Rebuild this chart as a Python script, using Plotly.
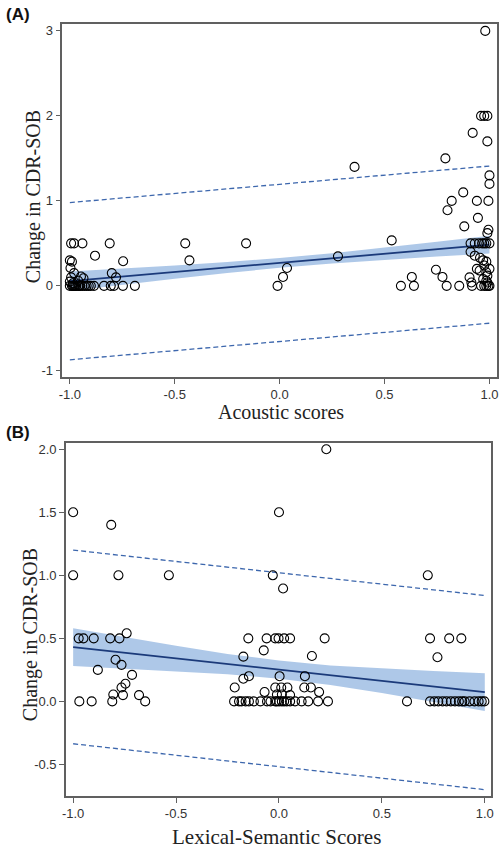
import plotly.graph_objects as go

# ---------------- Panel A data ----------------
a_x = [0.98, 0.96, 0.975, 0.99, 0.92, 0.99, 0.79, 0.357, 1.0, 1.0, 0.875,
       0.82, 0.94, 0.995, 0.80, 0.945, 0.88, 0.995, 0.99,
       0.91, 0.93, 0.95, 0.965, 0.975, 0.985, 1.0,
       0.91, 0.93, 0.955, 0.97, 0.985,
       0.94, 0.975, 0.985, 0.99, 0.985, 1.0, 0.97, 0.953, 0.99,
       0.745, 0.776, 0.905, 0.914,
       0.796, 0.856, 0.917, 0.96, 0.975, 0.985, 0.995, 1.0,
       -0.01, 0.016, 0.035, 0.278, 0.534, 0.578, 0.63, 0.64,
       -0.45, -0.43, -0.16,
       -0.994, -0.98, -0.94, -0.81,
       -0.88, -0.746,
       -1.0, -0.99, -0.997,
       -0.98, -0.80, -0.78,
       -0.994, -0.947, -0.935,
       -1.0, -0.96, -0.985,
       -1.0, -0.99, -0.985, -0.98, -0.975, -0.97, -0.96, -0.955, -0.95, -0.94,
       -0.93, -0.92, -0.91, -0.90, -0.885, -0.837, -0.805, -0.79, -0.747, -0.69]
a_y = [3.0, 2.0, 2.0, 2.0, 1.8, 1.7, 1.5, 1.4, 1.3, 1.2, 1.1,
       1.0, 1.0, 1.0, 0.89, 0.80, 0.70, 0.66, 0.62,
       0.5, 0.5, 0.5, 0.5, 0.5, 0.5, 0.5,
       0.40, 0.355, 0.33, 0.30, 0.285,
       0.20, 0.24, 0.16, 0.12, 0.06, 0.2, 0.08, 0.18, 0.04,
       0.19, 0.105, 0.10, 0.04,
       0, 0, 0, 0, 0, 0, 0, 0,
       0, 0.105, 0.21, 0.347, 0.535, 0, 0.105, 0,
       0.5, 0.30, 0.5,
       0.5, 0.5, 0.5, 0.5,
       0.355, 0.29,
       0.30, 0.285, 0.21,
       0.15, 0.15, 0.10,
       0.10, 0.11, 0.09,
       0.05, 0.06, 0.03,
       0, 0, 0, 0, 0, 0, 0, 0, 0, 0,
       0, 0, 0, 0, 0, 0, 0, 0, 0, 0]

# fitted line, confidence band and prediction interval
a_fit_x = [-1.0, -0.75, -0.5, -0.25, 0.0, 0.25, 0.5, 0.75, 1.0]
a_fit_y = [0.055, 0.109, 0.163, 0.216, 0.27, 0.324, 0.378, 0.431, 0.485]
a_ci_hi = [0.17, 0.204, 0.241, 0.281, 0.328, 0.384, 0.448, 0.518, 0.59]
a_ci_lo = [-0.06, 0.014, 0.085, 0.151, 0.212, 0.264, 0.308, 0.344, 0.38]
a_pi_x = [-1.0, 1.0]
a_pi_hi = [0.98, 1.41]
a_pi_lo = [-0.87, -0.44]

# ---------------- Panel B data ----------------
b_x = [-1.0, -0.815, -1.0, -0.78, -0.535, -0.74,
       0.23, 0.0, -0.03, 0.02, 0.723,
       -0.973, -0.95, -0.90, -0.82, -0.775, -0.149, -0.06, -0.018, -0.002, 0.025,
       0.054, 0.222, 0.734, 0.827, 0.886,
       0.77,
       -0.794, -0.765, -0.88, -0.714, -0.746, -0.765, -0.805, -0.758, -0.68,
       -0.97, -0.91, -0.81, -0.65,
       -0.173, -0.074, 0.16, -0.173, -0.146, 0.003, 0.126, -0.215, -0.018, 0.011,
       0.041, 0.123, 0.155, -0.07, -0.01, 0.014, 0.054, 0.195,
       -0.218, -0.194, -0.182, -0.162, -0.146, -0.122, -0.09, -0.058, -0.041, -0.018,
       -0.01, 0.001, 0.014, 0.025, 0.038, 0.054, 0.078, 0.11, 0.142, 0.19, 0.238,
       0.622, 0.734, 0.755, 0.774, 0.795, 0.814, 0.835, 0.855, 0.874, 0.89,
       0.902, 0.926, 0.95, 0.97, 0.985, 0.998]
b_y = [1.5, 1.4, 1.0, 1.0, 1.0, 0.54,
       2.0, 1.5, 1.0, 0.895, 1.0,
       0.5, 0.5, 0.5, 0.5, 0.5, 0.5, 0.5, 0.5, 0.5, 0.5,
       0.5, 0.5, 0.5, 0.5, 0.5,
       0.35,
       0.33, 0.29, 0.25, 0.21, 0.14, 0.11, 0.055, 0.05, 0.05,
       0, 0, 0, 0,
       0.355, 0.405, 0.36, 0.18, 0.2, 0.2, 0.2, 0.11, 0.11, 0.11,
       0.11, 0.11, 0.11, 0.074, 0.055, 0.055, 0.05, 0.074,
       0, 0, 0, 0, 0, 0, 0, 0, 0, 0,
       0, 0, 0, 0, 0, 0, 0, 0, 0, 0, 0,
       0, 0, 0, 0, 0, 0, 0, 0, 0, 0,
       0, 0, 0, 0, 0, 0]

b_fit_x = [-1.0, -0.75, -0.5, -0.25, 0.0, 0.25, 0.5, 0.75, 1.0]
b_fit_y = [0.43, 0.3855, 0.341, 0.2965, 0.252, 0.2075, 0.163, 0.1185, 0.074]
b_ci_hi = [0.58, 0.51, 0.441, 0.376, 0.324, 0.285, 0.26, 0.241, 0.224]
b_ci_lo = [0.28, 0.26, 0.241, 0.216, 0.18, 0.13, 0.066, -0.004, -0.076]
b_pi_x = [-1.0, 1.0]
b_pi_hi = [1.20, 0.84]
b_pi_lo = [-0.336, -0.70]

# ---------------- styles ----------------
BAND = "rgba(160,190,228,0.85)"
LINE = "#1b3a7a"
DASH = "#3d67ad"
FRAME = "#606060"

fig = go.Figure()

def add_panel(xa, ya, px, py, fx, fy, chi, clo, pix, pihi, pilo):
    fig.add_trace(go.Scatter(x=fx, y=clo, mode="lines", line=dict(width=0),
                             hoverinfo="skip", xaxis=xa, yaxis=ya, showlegend=False))
    fig.add_trace(go.Scatter(x=fx, y=chi, mode="lines", line=dict(width=0),
                             fill="tonexty", fillcolor=BAND,
                             hoverinfo="skip", xaxis=xa, yaxis=ya, showlegend=False))
    for arr in (pihi, pilo):
        fig.add_trace(go.Scatter(x=pix, y=arr, mode="lines",
                                 line=dict(color=DASH, width=1.3, dash="5px,3px"),
                                 xaxis=xa, yaxis=ya, showlegend=False))
    fig.add_trace(go.Scatter(x=fx, y=fy, mode="lines",
                             line=dict(color=LINE, width=1.8),
                             xaxis=xa, yaxis=ya, showlegend=False))
    fig.add_trace(go.Scatter(x=px, y=py, mode="markers",
                             marker=dict(symbol="circle-open", size=9,
                                         color="black", line=dict(width=1.1)),
                             xaxis=xa, yaxis=ya, showlegend=False))

add_panel("x", "y", a_x, a_y, a_fit_x, a_fit_y, a_ci_hi, a_ci_lo, a_pi_x, a_pi_hi, a_pi_lo)
add_panel("x2", "y2", b_x, b_y, b_fit_x, b_fit_y, b_ci_hi, b_ci_lo, b_pi_x, b_pi_hi, b_pi_lo)

axis_common = dict(showline=True, mirror=True, linecolor=FRAME, linewidth=1.5,
                   ticks="outside", ticklen=5, tickcolor=FRAME, tickwidth=1,
                   showgrid=False, zeroline=False,
                   tickfont=dict(family="Liberation Sans, Arial", size=13, color="#333"))

W, H = 500, 856
fig.update_layout(
    width=W, height=H, margin=dict(l=0, r=0, t=0, b=0),
    paper_bgcolor="white", plot_bgcolor="white",
    xaxis=dict(domain=[59 / W, 499 / W], range=[-1.036, 1.036],
               tickvals=[-1, -0.5, 0, 0.5, 1], ticktext=["-1.0", "-0.5", "0.0", "0.5", "1.0"],
               anchor="y", **axis_common),
    yaxis=dict(domain=[1 - 377 / H, 1 - 23 / H], range=[-1.074, 3.082],
               tickvals=[-1, 0, 1, 2, 3], ticktext=["-1", "0", "1", "2", "3"],
               anchor="x", **axis_common),
    xaxis2=dict(domain=[62.7 / W, 493.3 / W], range=[-1.035, 1.032],
                tickvals=[-1, -0.5, 0, 0.5, 1], ticktext=["-1.0", "-0.5", "0.0", "0.5", "1.0"],
                anchor="y2", **axis_common),
    yaxis2=dict(domain=[1 - 796.7 / H, 1 - 442.7 / H], range=[-0.749, 2.052],
                tickvals=[-0.5, 0, 0.5, 1, 1.5, 2], ticktext=["-0.5", "0.0", "0.5", "1.0", "1.5", "2.0"],
                anchor="x2", **axis_common),
)

serif = dict(family="Liberation Serif, Times New Roman", size=20, color="#222")
serif_b = dict(family="Liberation Serif, Times New Roman", size=21, color="#222")
bold = dict(family="Liberation Sans, Arial", size=17, color="#111")
annos = [
    dict(text="<b>(A)</b>", x=0 / W, y=1 - 14 / H, xanchor="left", yanchor="middle", font=bold),
    dict(text="<b>(B)</b>", x=0 / W, y=1 - 433 / H, xanchor="left", yanchor="middle", font=bold),
    dict(text="Change in CDR-SOB", x=30 / W, y=1 - 196 / H, textangle=-90,
         xanchor="center", yanchor="middle", font=serif),
    dict(text="Change in CDR-SOB", x=27 / W, y=1 - 635 / H, textangle=-90,
         xanchor="center", yanchor="middle", font=serif),
    dict(text="Acoustic scores", x=280 / W, y=1 - 412 / H,
         xanchor="center", yanchor="middle", font=serif),
    dict(text="Lexical-Semantic Scores", x=276 / W, y=1 - 838 / H,
         xanchor="center", yanchor="middle", font=serif_b),
]
for a in annos:
    fig.add_annotation(xref="paper", yref="paper", showarrow=False, **a)

fig.write_html("out.html", config={"displayModeBar": False},
               post_script="document.body.style.margin='0';document.body.style.overflow='hidden';")
